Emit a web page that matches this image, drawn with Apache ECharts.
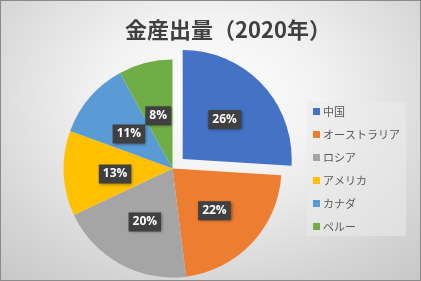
<!DOCTYPE html>
<html>
<head>
<meta charset="utf-8">
<script src="https://cdn.jsdelivr.net/npm/echarts@6/dist/echarts.min.js"></script>
<style>
html, body { margin: 0; padding: 0; }
#goldpie {
    width: 421px; height: 281px;
    background: radial-gradient(ellipse 75% 85% at 50% 35%, #ffffff 0%, #f2f2f2 35%, #d4d4d4 80%, #c8c8c8 100%);
    box-shadow: inset 0 0 0 1px #8a8a8a;
}
</style>
</head>
<body>
<div id="goldpie"></div>
<script>
// 金産出量 2020年 (割合 %)
var countries = ['中国', 'オーストラリア', 'ロシア', 'アメリカ', 'カナダ', 'ペルー'];
var shares = [26, 22, 20, 12.6, 11.4, 8];
var colors = ['#4472C4', '#ED7D31', '#A5A5A5', '#FFC000', '#5B9BD5', '#70AD47'];

var goldpie = echarts.init(document.getElementById('goldpie'));
var jpFont = '"Noto Sans CJK JP", "Noto Sans", sans-serif';

var pieData = [];
for (var i = 0; i < countries.length; i++) {
    pieData.push({
        name: countries[i],
        value: shares[i],
        selected: i === 0
    });
}

var option = {
    color: colors,
    animation: false,
    title: {
        text: '金産出量（2020年）',
        left: 120,
        top: 14,
        textStyle: {
            fontFamily: jpFont,
            fontSize: 22,
            fontWeight: 'bold',
            color: '#404040'
        }
    },
    legend: {
        orient: 'vertical',
        left: 307,
        top: 102,
        itemWidth: 7,
        itemHeight: 7,
        itemGap: 12,
        icon: 'rect',
        padding: [4, 6],
        backgroundColor: 'rgba(235,235,235,0.55)',
        textStyle: {
            fontFamily: jpFont,
            fontSize: 11,
            color: '#595959',
            padding: [0, 0, 0, -2]
        },
        data: countries
    },
    series: [
        {
            type: 'pie',
            center: [172.5, 168.5],
            radius: 109,
            startAngle: 90,
            clockwise: true,
            selectedMode: 'single',
            selectedOffset: 14,
            avoidLabelOverlap: false,
            itemStyle: {
                borderWidth: 0
            },
            label: {
                show: true,
                position: 'inside',
                offset: [0, 3],
                formatter: function (p) {
                    return Math.round(p.percent) + '%';
                },
                fontFamily: '"Open Sans", "DejaVu Sans", sans-serif',
                fontSize: 12,
                fontWeight: 'bold',
                color: '#ffffff',
                backgroundColor: '#404040',
                padding: [4, 4, 3, 4],
                shadowColor: 'rgba(0,0,0,0.45)',
                shadowBlur: 3,
                shadowOffsetX: 1,
                shadowOffsetY: 1
            },
            labelLine: { show: false },
            emphasis: { disabled: true },
            data: pieData
        }
    ]
};
goldpie.setOption(option);
</script>
</body>
</html>
